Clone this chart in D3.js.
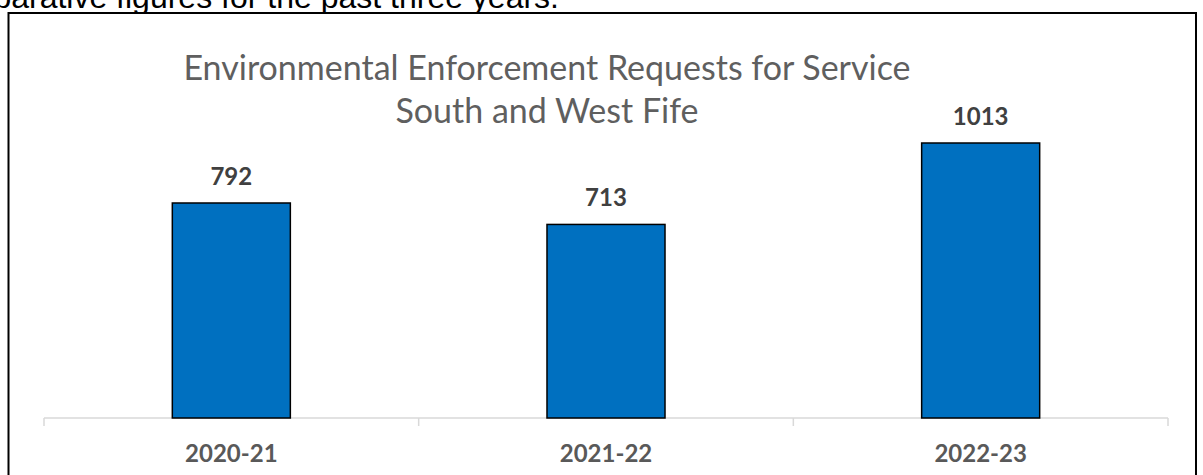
<!DOCTYPE html>
<html>
<head>
<meta charset="utf-8">
<script src="https://cdn.jsdelivr.net/npm/d3@7"></script>
<style>
  body { margin:0; background:#fff; overflow:hidden; }
</style>
</head>
<body>
<script>
// data
var categories = ["2020-21", "2021-22", "2022-23"];
var values = [792, 713, 1013];
var titleLines = ["Environmental Enforcement Requests for Service", "South and West Fife"];
var introText = "Comparative figures for the past three years.";

var W = 1203, H = 475;
var plot = {left:44, right:1168, base:418, top:143};

var svg = d3.select("body").append("svg")
    .attr("width", W).attr("height", H);

// clipped line of body text above the chart
svg.append("text")
    .attr("x", 559).attr("y", 8)
    .attr("text-anchor", "end")
    .style("font-family", "'Liberation Sans', Arial, sans-serif")
    .style("font-size", "32px")
    .attr("fill", "#000")
    .text(introText);

// chart frame
svg.append("rect")
    .attr("x", 8.5).attr("y", 13)
    .attr("width", 1187.5).attr("height", 480)
    .attr("fill", "#fff")
    .attr("stroke", "#000")
    .attr("stroke-width", 2);

var x = d3.scaleBand()
    .domain(categories)
    .range([plot.left, plot.right])
    .paddingInner(0.685)
    .paddingOuter(0.3425);

var y = d3.scaleLinear()
    .domain([0, d3.max(values)])
    .range([plot.base, plot.top]);

var g = svg.append("g");

// title
var title = g.append("text")
    .attr("text-anchor", "middle")
    .style("font-family", "Lato, 'Open Sans', sans-serif")
    .style("font-weight", 400)
    .style("font-size", "34px")
    .attr("fill", "#5f5f5f");
title.selectAll("tspan").data(titleLines).enter().append("tspan")
    .attr("x", 547)
    .attr("y", function(d, i){ return 80 + i*43; })
    .text(function(d){ return d; });

// axis line and boundary ticks
var step = x.step();
var bounds = categories.map(function(c){ return x(c) - step*x.paddingInner()/2; });
bounds.push(plot.right);
g.append("line")
    .attr("x1", plot.left).attr("x2", plot.right)
    .attr("y1", plot.base).attr("y2", plot.base)
    .attr("stroke", "#d9d9d9").attr("stroke-width", 1.5);
g.selectAll(".tick-mark").data(bounds).enter().append("line")
    .attr("class", "tick-mark")
    .attr("x1", function(d){ return d; }).attr("x2", function(d){ return d; })
    .attr("y1", plot.base).attr("y2", plot.base + 8)
    .attr("stroke", "#d9d9d9").attr("stroke-width", 1.5);

// bars
g.selectAll(".bar").data(values).enter().append("rect")
    .attr("class", "bar")
    .attr("x", function(d, i){ return x(categories[i]); })
    .attr("y", function(d){ return y(d); })
    .attr("width", x.bandwidth())
    .attr("height", function(d){ return plot.base - y(d); })
    .attr("fill", "#0070C0")
    .attr("stroke", "#000")
    .attr("stroke-width", 1.5);

// value labels
g.selectAll(".val").data(values).enter().append("text")
    .attr("class", "val")
    .attr("x", function(d, i){ return x(categories[i]) + x.bandwidth()/2; })
    .attr("y", function(d){ return y(d) - 18; })
    .attr("text-anchor", "middle")
    .style("font-family", "Lato, 'Open Sans', sans-serif")
    .style("font-weight", "bold")
    .style("font-size", "24px")
    .attr("fill", "#404040")
    .text(function(d){ return d; });

// category labels
var xAxis = d3.axisBottom(x).tickSize(0).tickPadding(0);
var ax = g.append("g")
    .attr("transform", "translate(0," + plot.base + ")")
    .call(xAxis);
ax.select(".domain").remove();
ax.selectAll("text")
    .attr("y", 44)
    .attr("dy", 0)
    .style("font-family", "Lato, 'Open Sans', sans-serif")
    .style("font-weight", "bold")
    .style("font-size", "24px")
    .attr("fill", "#595959");
</script>
</body>
</html>
